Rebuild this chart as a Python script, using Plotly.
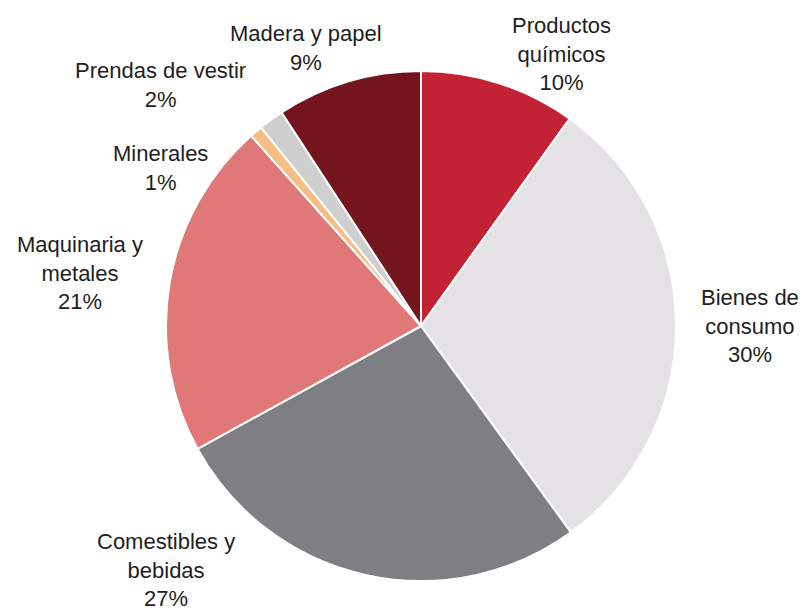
import plotly.graph_objects as go

categories = ["Productos químicos", "Bienes de consumo", "Comestibles y bebidas",
              "Maquinaria y metales", "Minerales", "Prendas de vestir", "Madera y papel"]
values = [9.9, 30.1, 27.0, 21.4, 0.8, 1.6, 9.2]
label_text = ["Productos<br>químicos", "Bienes de<br>consumo", "Comestibles y<br>bebidas",
              "Maquinaria y<br>metales", "Minerales", "Prendas de vestir", "Madera y papel"]
colors = ["#C32234", "#E4E2E5", "#7E7F82", "#E07878", "#F6BD84", "#CFCFD0", "#74151E"]

# label anchor positions in pixels (x, y from top)
label_pos = [(561, 54), (750, 326), (166, 570), (80, 273), (160, 168), (160, 85), (306, 48)]

W, H = 803, 610
cx, cy, r = 421, 326, 255

fig = go.Figure(go.Pie(
    labels=categories, values=values, sort=False, direction="clockwise", rotation=0,
    marker=dict(colors=colors, line=dict(color="white", width=2)),
    textinfo="none", hoverinfo="label+percent", showlegend=False,
    domain=dict(x=[(cx - r) / W, (cx + r) / W], y=[(H - cy - r) / H, (H - cy + r) / H]),
))

total = sum(values)
for txt, v, (px, py) in zip(label_text, values, label_pos):
    pct = round(v / total * 100)
    fig.add_annotation(
        x=px / W, y=1 - py / H, xref="paper", yref="paper",
        text=f"{txt}<br>{pct}%", showarrow=False, align="center",
        xanchor="center", yanchor="middle",
        font=dict(family="Liberation Sans, Arial, sans-serif", size=22, color="#1e1e1e"),
    )

fig.update_layout(width=W, height=H, margin=dict(l=0, r=0, t=0, b=0),
                  paper_bgcolor="white", plot_bgcolor="white")
fig.write_html("out.html")
